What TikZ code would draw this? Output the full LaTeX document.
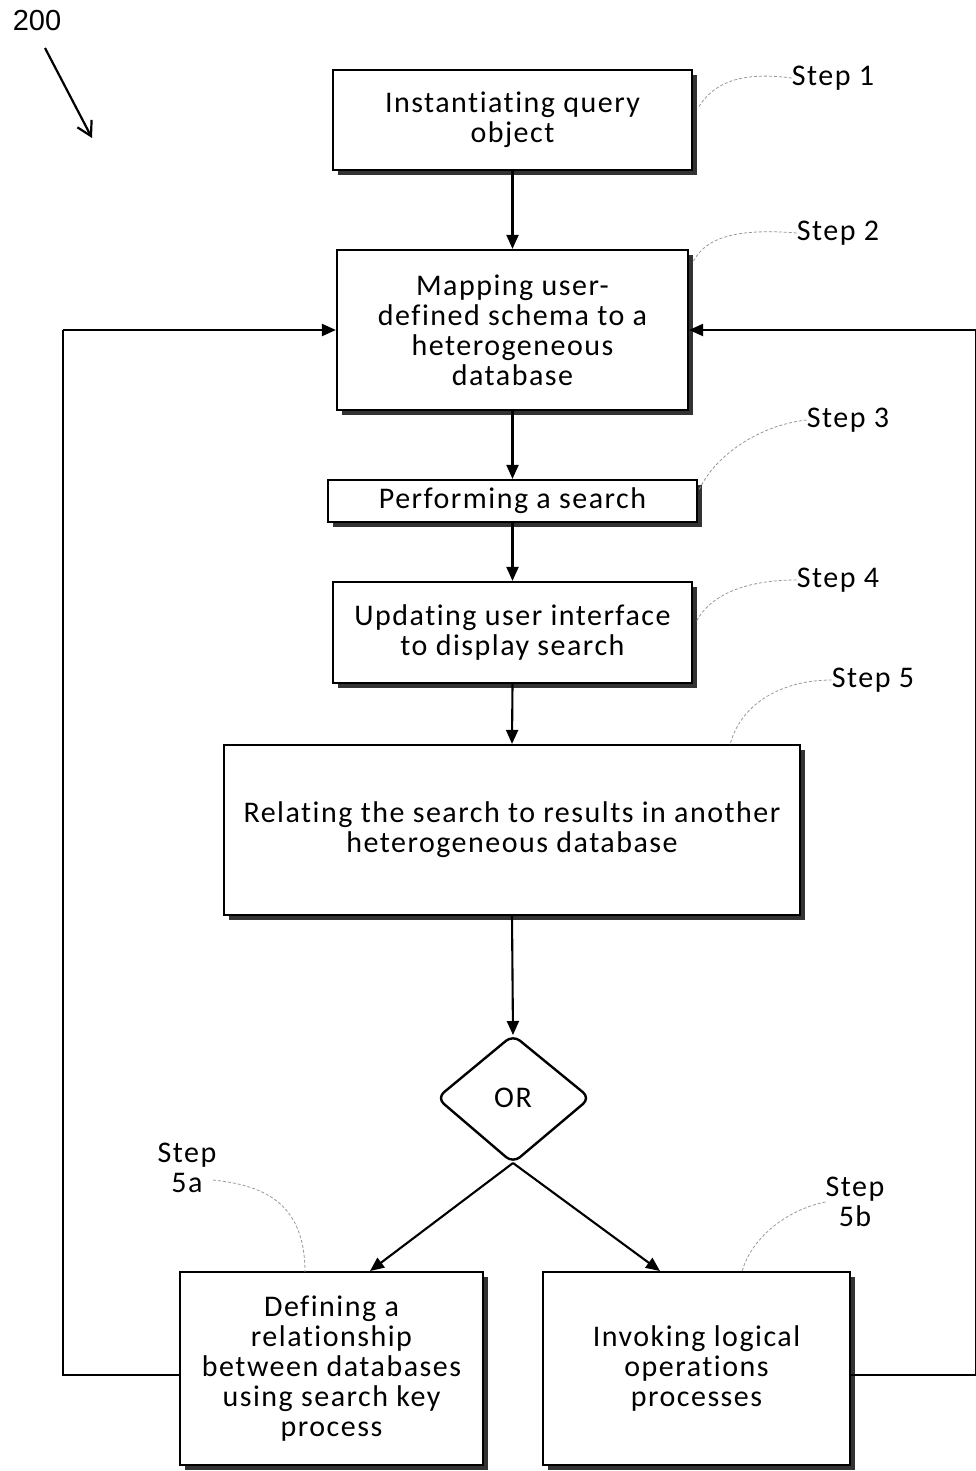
\documentclass[tikz,border=0pt]{standalone}
\usepackage{fontspec}
\newfontfamily\boxfont[LetterSpace=5,Ligatures=NoCommon]{Carlito}
\newfontfamily\numfont{Liberation Sans}
\usetikzlibrary{arrows.meta,shadows}
\begin{document}
\begin{tikzpicture}[x=1pt,y=-1pt,
  every node/.style={font=\boxfont\fontsize{30}{30}\selectfont},
  stepbox/.style={draw, line width=2.2pt, fill=white, align=center, inner sep=0pt,
     drop shadow={shadow xshift=5pt, shadow yshift=-5pt, fill=black!80, opacity=1}},
  flow/.style={line width=2.1pt, -{Triangle[length=14pt,width=12pt]}},
  loopline/.style={line width=2.1pt},
  leader/.style={gray!80, line width=0.8pt, densely dashed},
  lbl/.style={align=center, inner sep=0pt}]
\useasboundingbox (0,0) rectangle (975,1471);
\fill[white] (0,0) rectangle (975,1471);
% 200 label
\node[font=\numfont\fontsize{29}{30}\selectfont, inner sep=0pt] (n200) at (37,21) {200};
\coordinate (a200s) at (45,48);
\coordinate (a200e) at (92,138);
\draw[line width=2.2pt, -{Straight Barb[length=14pt,width=16pt]}] (a200s) -- (a200e);
% boxes
\node[stepbox, minimum width=359pt, minimum height=100pt] (b1) at (512.5,120) {Instantiating query\\object};
\node[stepbox, minimum width=351pt, minimum height=160pt] (b2) at (512.5,330) {Mapping user-\\defined schema to a\\heterogeneous\\database};
\node[stepbox, minimum width=369pt, minimum height=42pt] (b3) at (512.5,501) {Performing a search};
\node[stepbox, minimum width=359pt, minimum height=101pt] (b4) at (512.5,632.5) {Updating user interface\\to display search};
\node[stepbox, minimum width=576pt, minimum height=170pt] (b5) at (512,830) {Relating the search to results in another\\heterogeneous database};
\node[stepbox, minimum width=303pt, minimum height=193pt] (b5a) at (331.5,1368.5) {Defining a\\relationship\\between databases\\using search key\\process};
\node[stepbox, minimum width=307pt, minimum height=193pt] (b5b) at (696.5,1368.5) {Invoking logical\\operations\\processes};
% diamond
\coordinate (dt) at (513,1035);
\coordinate (dr) at (590,1098);
\coordinate (db) at (513,1163);
\coordinate (dl) at (437,1098);
\draw[line width=2.4pt, rounded corners=9pt, fill=white] (dt) -- (dr) -- (db) -- (dl) -- cycle;
\node[inner sep=0pt] (or) at (513,1098) {OR};
% flow arrows
\draw[flow] (b1.south) -- (b2.north);
\draw[flow] (b2.south) -- (b3.north);
\draw[flow] (b3.south) -- (b4.north);
\draw[flow] (b4.south) -- (b5.north);
\draw[flow] (b5.south) -- (dt);
\coordinate (x5a) at (370,1271);
\coordinate (x5b) at (660,1271);
\draw[flow] (db) -- (x5a);
\draw[flow] (db) -- (x5b);
% loops
\coordinate (lL) at (63,1375);
\coordinate (lLt) at (63,330);
\draw[loopline] (b5a.west |- lL) -- (lL) -- (lLt);
\draw[flow] (lLt) -- (b2.west);
\coordinate (lR) at (976,1375);
\coordinate (lRt) at (976,330);
\draw[loopline] (b5b.east |- lR) -- (lR) -- (lRt);
\draw[flow] (lRt) -- (b2.east);
% step labels
\node[lbl] (s1) at (833,78) {Step 1};
\node[lbl] (s2) at (838,233) {Step 2};
\node[lbl] (s3) at (848,420) {Step 3};
\node[lbl] (s4) at (838,580) {Step 4};
\node[lbl] (s5) at (873,680) {Step 5};
\node[lbl] (s5a) at (187,1168) {Step\\5a};
\node[lbl] (s5b) at (855,1202) {Step\\5b};
\coordinate (c1) at (698,108);
\coordinate (c2) at (693,262);
\coordinate (c3) at (699,490);
\coordinate (c4) at (696,622);
\coordinate (c5) at (730,745);
\coordinate (c5a) at (305,1272);
\coordinate (c5b) at (742,1272);
\draw[leader] (s1.west) .. controls (745,72) and (715,80) .. (c1);
\draw[leader] (s2.west) .. controls (735,228) and (705,238) .. (c2);
\draw[leader] (s3.west) .. controls (760,425) and (715,455) .. (c3);
\draw[leader] (s4.west) .. controls (745,580) and (710,595) .. (c4);
\draw[leader] (s5.west) .. controls (780,680) and (740,705) .. (c5);
\draw[leader] (213,1180) .. controls (260,1185) and (305,1200) .. (c5a);
\draw[leader] (s5b.west) .. controls (785,1210) and (750,1240) .. (c5b);
\end{tikzpicture}
\end{document}
